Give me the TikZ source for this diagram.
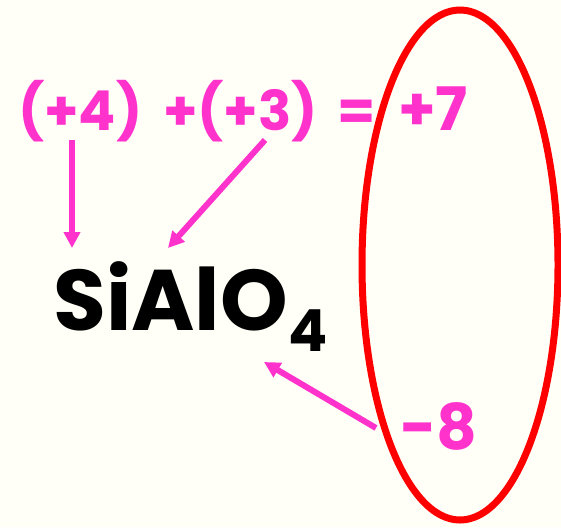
\documentclass[tikz,border=0pt]{standalone}
\usepackage{fontspec}
\setmainfont{Poppins}[BoldFont={* Bold}]
\usetikzlibrary{arrows.meta}
\definecolor{bgc}{RGB}{255,255,248}
\definecolor{pinkc}{RGB}{255,51,204}
\definecolor{redc}{RGB}{255,0,0}
\tikzset{
  ptxt/.style={text=pinkc,inner sep=0pt,anchor=base west,font=\bfseries\fontsize{55}{55}\selectfont},
  btxt/.style={text=black,inner sep=0pt,anchor=base west,font=\bfseries\fontsize{86}{86}\selectfont},
  parrow/.style={draw=pinkc,line width=6pt,-{Triangle[length=16pt,width=16pt]}},
}
\begin{document}
\begin{tikzpicture}[x=1pt,y=-1pt]
\fill[bgc] (0,0) rectangle (561,527);
\useasboundingbox (0,0) rectangle (561,527);
\node[ptxt] (a) at (18,130) {(+4)};
\node[ptxt] (b) at (163,130) {+(+3)};
\node[ptxt] (c) at (337,130) {=};
\node[ptxt,font=\bfseries\fontsize{60}{60}\selectfont] (d) at (398,130) {+7};
\node[btxt] (s) at (53,330) {SiAlO};
\node[text=black,inner sep=0pt,anchor=base west,font=\bfseries\fontsize{58}{58}\selectfont] (s4) at (288,351) {4};
\node[text=pinkc,inner sep=0pt,anchor=base west,font=\bfseries\fontsize{63}{63}\selectfont] (m) at (400,449) {-8};
\draw[redc,line width=7pt] (460,265) ellipse [x radius=98, y radius=255];
\coordinate (a1) at (72,140);
\coordinate (a2) at (72,248);
\coordinate (b1) at (265,140);
\coordinate (b2) at (168,248);
\coordinate (m1) at (376,428);
\coordinate (m2) at (264,362);
\draw[parrow] (a1) -- (a2);
\draw[parrow] (b1) -- (b2);
\draw[parrow] (m1) -- (m2);
\end{tikzpicture}
\end{document}
